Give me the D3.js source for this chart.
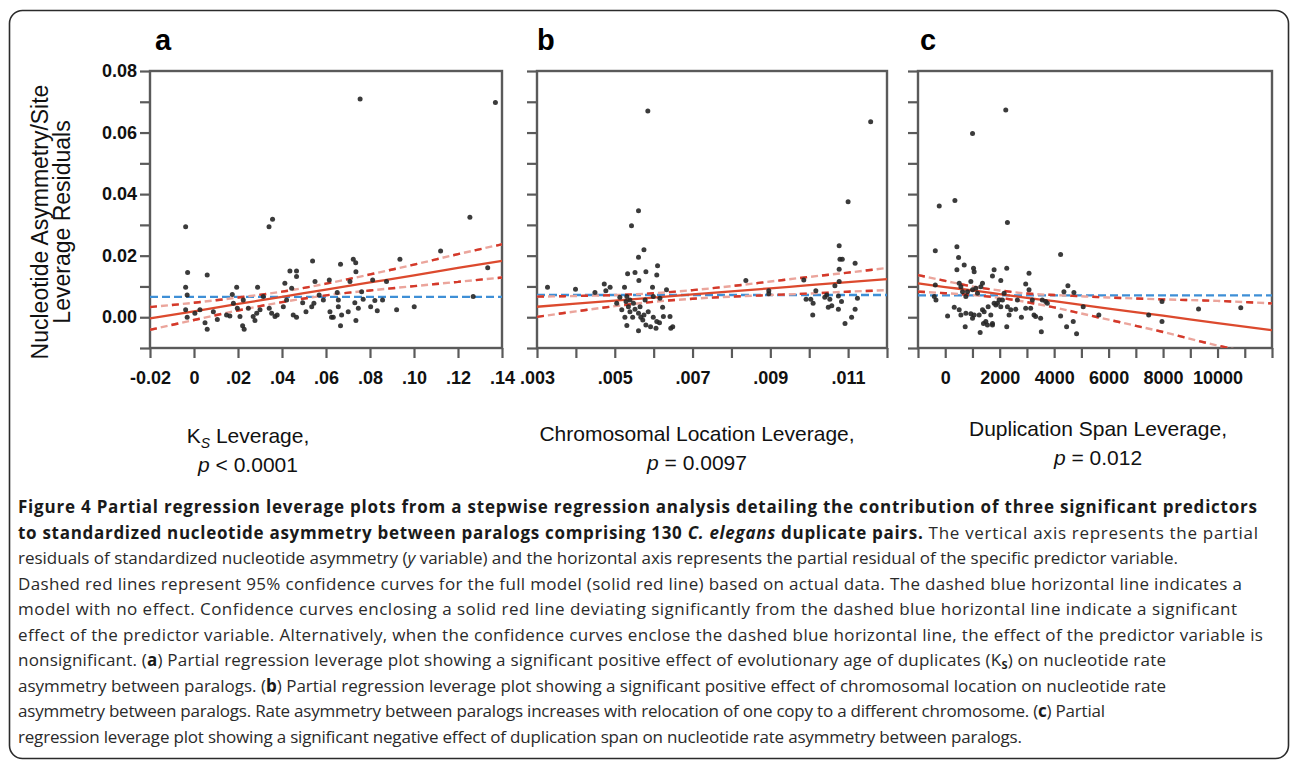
<!DOCTYPE html>
<html><head><meta charset="utf-8">
<script src="https://cdn.jsdelivr.net/npm/d3@7"></script>
<style>
html,body{margin:0;padding:0;background:#fff;}
svg{display:block;}
</style></head>
<body>
<svg id="chart" width="1290" height="761"></svg>
<script>
// ---------------- DATA ----------------
// Panel a : Ks leverage
const aX = [-0.0038,0.0341,0.0357,0.1254,-0.0029,-0.0038,-0.0031,-0.0038,-0.0031,0.0060,0.0004,0.0060,0.0050,0.0106,0.0148,0.0163,0.0194,0.0174,0.0179,0.0197,0.0209,0.0221,0.0228,0.0289,0.0269,0.0285,0.0300,0.0277,0.0342,0.0353,0.0368,0.0378,0.0413,0.0436,0.0466,0.0466,0.0444,0.0451,0.0466,0.0494,0.0509,0.0535,0.0545,0.0539,0.0550,0.0569,0.0615,0.0618,0.0625,0.0633,0.0651,0.0666,0.0656,0.0656,0.0671,0.0666,0.0701,0.0709,0.0724,0.0735,0.0736,0.0731,0.0736,0.0747,0.0769,0.0803,0.0812,0.0822,0.0833,0.0857,0.0875,0.0921,0.0936,0.1001,0.1121,0.1269,0.1335,0.0755,0.1370,0.0027,0.0088,0.0247,0.0224,0.0315,0.0406,0.0421,0.0588,0.0762];
const aY = [0.0294,0.0294,0.0318,0.0325,0.0145,0.0097,0.0072,0.0024,0.0000,0.0137,0.0013,-0.0039,-0.0018,-0.0007,0.0007,0.0004,0.0097,0.0074,0.0045,0.0029,0.0002,-0.0028,-0.0039,0.0097,0.0002,0.0013,0.0024,-0.0011,0.0029,0.0013,0.0002,0.0007,0.0110,0.0150,0.0150,0.0132,0.0094,0.0007,0.0000,0.0047,0.0018,0.0034,0.0045,0.0183,0.0116,0.0072,0.0121,0.0018,0.0000,0.0000,0.0080,0.0172,0.0056,0.0034,0.0007,-0.0028,0.0018,0.0116,0.0188,0.0177,0.0148,0.0047,-0.0011,0.0029,0.0058,0.0034,0.0121,0.0054,0.0021,0.0056,0.0116,0.0024,0.0188,0.0034,0.0215,0.0067,0.0161,0.0709,0.0698,0.0024,0.0018,0.0029,0.0056,0.0067,0.0034,0.0056,0.0056,0.0083];
const aCurveX = [-0.02,0,0.02,0.04,0.06,0.08,0.10,0.12,0.14];
const aFit    = [-0.0004,0.0019,0.0043,0.0066,0.0090,0.0113,0.0136,0.0160,0.0183];
const aUpper  = [0.0033,0.0047,0.0064,0.0083,0.0109,0.0139,0.0171,0.0205,0.0237];
const aLower  = [-0.0041,-0.0009,0.0022,0.0049,0.0071,0.0087,0.0101,0.0115,0.0129];
const aNoEffect = 0.0066;
const aTicks = [-0.02,0,0.02,0.04,0.06,0.08,0.10,0.12,0.14];
const aTickLabels = ["-0.02","0",".02",".04",".06",".08",".10",".12",".14"];

// Panel b : chromosomal location leverage
const bX = [0.00585,0.01158,0.00561,0.01100,0.00543,0.00575,0.00561,0.00533,0.00552,0.00562,0.00580,0.00610,0.00608,0.00473,0.00477,0.00488,0.00449,0.00399,0.00327,0.00525,0.00513,0.00531,0.00539,0.00529,0.00535,0.00539,0.00526,0.00531,0.00546,0.00552,0.00561,0.00567,0.00561,0.00572,0.00575,0.00580,0.00586,0.00592,0.00597,0.00599,0.00606,0.00608,0.00615,0.00623,0.00625,0.00633,0.00642,0.00644,0.00649,0.00599,0.00616,0.00505,0.00548,0.00565,0.00578,0.00518,0.00837,0.00896,0.00896,0.00986,0.00992,0.01004,0.01010,0.01009,0.01017,0.01053,0.01049,0.01058,0.01077,0.01079,0.01085,0.01077,0.01077,0.01066,0.01075,0.01075,0.01083,0.01092,0.01109,0.01118,0.01118,0.01124,0.01045,0.01040];
const bY = [0.0670,0.0635,0.0346,0.0375,0.0297,0.0219,0.0195,0.0141,0.0145,0.0119,0.0148,0.0167,0.0137,0.0108,0.0086,0.0097,0.0080,0.0091,0.0097,0.0097,0.0065,0.0067,0.0056,0.0051,0.0034,0.0018,0.0000,-0.0027,0.0000,0.0026,0.0013,0.0000,-0.0044,-0.0009,0.0007,-0.0025,0.0018,-0.0031,0.0097,0.0000,-0.0036,-0.0014,-0.0018,0.0032,0.0002,0.0089,0.0002,-0.0036,-0.0031,0.0067,0.0062,0.0045,0.0045,0.0034,0.0056,0.0024,0.0119,0.0086,0.0076,0.0121,0.0058,0.0058,0.0045,0.0007,0.0086,0.0058,0.0032,0.0037,0.0232,0.0188,0.0188,0.0156,0.0116,0.0102,0.0069,0.0026,0.0051,-0.0020,0.0000,0.0175,0.0026,0.0062,0.0072,0.0065];
const bCurveX = [0.003,0.004,0.005,0.006,0.007,0.008,0.009,0.010,0.011,0.012];
const bFit    = [0.0034,0.0044,0.0054,0.0064,0.0074,0.0084,0.0094,0.0104,0.0114,0.0124];
const bUpper  = [0.0067,0.0069,0.0072,0.0078,0.0088,0.0101,0.0116,0.0131,0.0145,0.0160];
const bLower  = [0.0001,0.0019,0.0036,0.0050,0.0060,0.0067,0.0072,0.0077,0.0083,0.0088];
const bNoEffect = 0.0072;
const bTicks = [0.003,0.004,0.005,0.006,0.007,0.008,0.009,0.010,0.011,0.012];
const bTickLabels = [".003","",".005","",".007","",".009","",".011",""];

// Panel c : duplication span leverage
const cX = [2223,1003,-220,355,2284,-365,428,490,428,697,1039,1063,1795,1734,2259,2040,3077,2955,3077,4237,4505,4359,4725,-341,-365,-402,514,575,636,758,819,941,1002,1124,1185,1307,1368,331,514,575,758,86,941,1002,1063,1246,1368,1429,1490,1551,1673,1734,1576,1795,1857,1918,1979,2040,2101,2162,2284,2345,2406,2589,2650,2797,2955,3138,3199,3260,3321,3504,3565,3688,3749,4237,4457,4701,4823,5067,5641,733,1283,1405,1734,2259,3529,7472,7960,7960,9303,10853];
const cY = [0.0673,0.0597,0.0361,0.0379,0.0308,0.0216,0.0229,0.0194,0.0154,0.0170,0.0159,0.0148,0.0154,0.0134,0.0159,0.0119,0.0143,0.0108,0.0089,0.0204,0.0102,0.0083,0.0080,0.0056,0.0105,0.0067,0.0110,0.0099,0.0083,0.0067,0.0083,0.0116,0.0089,0.0094,0.0078,0.0099,0.0110,0.0032,0.0024,0.0007,0.0013,0.0004,0.0011,-0.0003,0.0007,0.0007,0.0024,0.0018,-0.0014,-0.0025,0.0007,-0.0020,0.0034,0.0045,0.0040,0.0045,0.0056,0.0034,0.0056,0.0078,0.0034,0.0007,0.0024,0.0026,0.0056,0.0000,0.0029,0.0029,0.0056,0.0007,0.0002,-0.0003,0.0056,0.0051,0.0045,0.0004,-0.0031,-0.0014,-0.0054,0.0034,0.0007,-0.0031,-0.0050,-0.0020,-0.0025,-0.0031,-0.0047,0.0007,0.0051,-0.0014,0.0027,0.0031];
const cCurveX = [-1000,0,1000,2000,3000,4000,5000,6000,8000,10000,12000];
const cFit    = [0.0110,0.0098,0.0087,0.0075,0.0063,0.0052,0.0040,0.0028,0.0005,-0.0019,-0.0042];
const cUpper  = [0.0137,0.0118,0.0100,0.0087,0.0077,0.0072,0.0068,0.0064,0.0058,0.0053,0.0045];
const cLower  = [0.0083,0.0078,0.0072,0.0063,0.0049,0.0032,0.0012,-0.0008,-0.0048,-0.0092,-0.0129];
const cNoEffect = 0.0071;
const cTicks = [-1000,0,1000,2000,3000,4000,5000,6000,7000,8000,9000,10000,11000,12000];
const cTickLabels = ["","0","","2000","","4000","","6000","","8000","","10000","",""];

// Shared y axis
const yTicks = [-0.01,0,0.01,0.02,0.03,0.04,0.05,0.06,0.07,0.08];
const yTickLabels = ["","0.00","","0.02","","0.04","","0.06","","0.08"];
const yTitle = ["Nucleotide Asymmetry/Site","Leverage Residuals"];

const captionLines = [
  [["Figure 4 Partial regression leverage plots from a stepwise regression analysis detailing the contribution of three significant predictors","b"]],
  [["to standardized nucleotide asymmetry between paralogs comprising 130 ","b"],["C. elegans","bi"],[" duplicate pairs.","b"],[" The vertical axis represents the partial",""]],
  [["residuals of standardized nucleotide asymmetry (",""],["y","i"],[" variable) and the horizontal axis represents the partial residual of the specific predictor variable.",""]],
  [["Dashed red lines represent 95% confidence curves for the full model (solid red line) based on actual data. The dashed blue horizontal line indicates a",""]],
  [["model with no effect. Confidence curves enclosing a solid red line deviating significantly from the dashed blue horizontal line indicate a significant",""]],
  [["effect of the predictor variable. Alternatively, when the confidence curves enclose the dashed blue horizontal line, the effect of the predictor variable is",""]],
  [["nonsignificant. (",""],["a","b"],[") Partial regression leverage plot showing a significant positive effect of evolutionary age of duplicates (K",""],["S","sub"],[") on nucleotide rate","up"]],
  [["asymmetry between paralogs. (",""],["b","b"],[") Partial regression leverage plot showing a significant positive effect of chromosomal location on nucleotide rate",""]],
  [["asymmetry between paralogs. Rate asymmetry between paralogs increases with relocation of one copy to a different chromosome. (",""],["c","b"],[") Partial",""]],
  [["regression leverage plot showing a significant negative effect of duplication span on nucleotide rate asymmetry between paralogs.",""]]
];
const captionWidths = [1239,1240,1160,1224,1219,1245,1148,1148,1087,1004];

// ---------------- DRAW ----------------
const svg = d3.select("#chart");
const FONT = "Liberation Sans, Arial, Helvetica, sans-serif";
const CAPFONT = "Open Sans, Noto Sans, sans-serif";

svg.append("rect").attr("x",9.5).attr("y",10.5).attr("width",1279).attr("height",748)
  .attr("rx",13).attr("fill","none").attr("stroke","#2b2b2b").attr("stroke-width",1.6);

const TOP = 71, BOTTOM = 348;
const y = d3.scaleLinear().domain([-0.01,0.08]).range([BOTTOM,TOP]);

const panels = [
  {id:"a", left:150, right:502, domain:[-0.02,0.14], xs:aX, ys:aY, cx:aCurveX, fit:aFit, up:aUpper, lo:aLower, none:aNoEffect, ticks:aTicks, labels:aTickLabels, yLabels:true, letterX:155},
  {id:"b", left:537, right:887, domain:[0.003,0.012], xs:bX, ys:bY, cx:bCurveX, fit:bFit, up:bUpper, lo:bLower, none:bNoEffect, ticks:bTicks, labels:bTickLabels, yLabels:false, letterX:537},
  {id:"c", left:918, right:1272, domain:[-1000,12000], xs:cX, ys:cY, cx:cCurveX, fit:cFit, up:cUpper, lo:cLower, none:cNoEffect, ticks:cTicks, labels:cTickLabels, yLabels:false, letterX:920}
];

const axisColor = "#5a5a5a";

panels.forEach(p => {
  const x = d3.scaleLinear().domain(p.domain).range([p.left,p.right]);
  const g = svg.append("g");
  const clipId = "clip-"+p.id;
  svg.append("clipPath").attr("id",clipId).append("rect")
    .attr("x",p.left).attr("y",TOP).attr("width",p.right-p.left).attr("height",BOTTOM-TOP);

  const xAxis = d3.axisBottom(x).tickValues(p.ticks).tickSize(10).tickSizeOuter(0)
    .tickFormat((d,i)=>p.labels[i]);
  const gx = g.append("g").attr("transform",`translate(0,${BOTTOM})`).call(xAxis);
  const yAxis = d3.axisLeft(y).tickValues(yTicks).tickSize(10).tickSizeOuter(0)
    .tickFormat((d,i)=> p.yLabels ? yTickLabels[i] : "");
  const gy = g.append("g").attr("transform",`translate(${p.left},0)`).call(yAxis);
  [gx,gy].forEach(ax=>{
    ax.select(".domain").remove();
    ax.selectAll(".tick line").attr("stroke",axisColor).attr("stroke-width",2.2);
    ax.selectAll(".tick text").attr("fill","#111").attr("font-family",FONT)
      .attr("font-size",18).attr("font-weight","bold");
  });
  gx.selectAll(".tick text").attr("dy","1.25em");
  gy.selectAll(".tick text").attr("x",-13);

  g.append("rect").attr("x",p.left).attr("y",TOP).attr("width",p.right-p.left).attr("height",BOTTOM-TOP)
    .attr("fill","none").attr("stroke",axisColor).attr("stroke-width",2.4);

  const inner = g.append("g").attr("clip-path",`url(#${clipId})`);
  inner.append("line").attr("x1",p.left).attr("x2",p.right).attr("y1",y(p.none)).attr("y2",y(p.none))
    .attr("stroke","#3e8fd6").attr("stroke-width",2.4).attr("stroke-dasharray","8,4");

  const line = (arr)=> d3.line().x((d,i)=>x(p.cx[i])).y(d=>y(d)).curve(d3.curveMonotoneX)(arr);
  [p.up,p.lo].forEach(arr=>{
    inner.append("path").attr("d",line(arr)).attr("fill","none")
      .attr("stroke","#eba59c").attr("stroke-width",2.4).attr("stroke-dasharray","7,4");
    inner.append("path").attr("d",line(arr)).attr("fill","none")
      .attr("stroke","#d4392a").attr("stroke-width",2.4).attr("stroke-dasharray","7,15");
  });
  inner.append("path").attr("d",line(p.fit)).attr("fill","none")
    .attr("stroke","#dc4a2e").attr("stroke-width",2.3);

  inner.selectAll("circle.pt").data(p.xs).join("circle").attr("class","pt")
    .attr("cx",d=>x(d)).attr("cy",(d,i)=>y(p.ys[i])).attr("r",2.5)
    .attr("fill","#262626").attr("opacity",0.9);

  svg.append("text").attr("x",p.letterX).attr("y",50).text(p.id)
    .attr("font-family",FONT).attr("font-weight","bold").attr("font-size",29).attr("fill","#000");
});

// y title (two lines, rotated)
const yt = svg.append("text").attr("transform","translate(48,222) rotate(-90)")
  .attr("text-anchor","middle").attr("font-family",FONT).attr("font-size",23).attr("fill","#111");
yt.append("tspan").attr("x",0).attr("y",0).text(yTitle[0]);
yt.append("tspan").attr("x",0).attr("y",22).text(yTitle[1]);

// x titles
function xTitle(cx, y1, y2, parts, pparts){
  const t1 = svg.append("text").attr("x",cx).attr("y",y1).attr("text-anchor","middle")
    .attr("font-family",FONT).attr("font-size",21).attr("fill","#111");
  parts.forEach(([s,st])=>{
    const ts = t1.append("tspan").text(s);
    if(st==="sub"){ ts.attr("font-size",14).attr("font-style","italic").attr("dy",5); }
    if(st==="after"){ ts.attr("dy",-5); }
  });
  const t2 = svg.append("text").attr("x",cx).attr("y",y2).attr("text-anchor","middle")
    .attr("font-family",FONT).attr("font-size",21).attr("fill","#111");
  t2.append("tspan").attr("font-style","italic").text("p");
  t2.append("tspan").text(pparts);
}
xTitle(248,443,472,[["K",""],["S","sub"],[" Leverage,","after"]]," < 0.0001");
xTitle(697,441,470,[["Chromosomal Location Leverage,",""]]," = 0.0097");
xTitle(1098,436,465,[["Duplication Span Leverage,",""]]," = 0.012");

// caption: fit each line to its measured width with letter-spacing
captionLines.forEach((segs,li)=>{
  const t = svg.append("text").attr("x",18).attr("y",513 + li*25.5)
    .attr("font-family",CAPFONT).attr("font-size",17).attr("fill","#2a2a2a");
  let nChars = 0;
  segs.forEach(([s,st])=>{
    const ts = t.append("tspan").text(s);
    nChars += s.length;
    if(st.includes("b")) ts.attr("font-weight","bold").attr("fill","#1a1a1a");
    if(st.includes("i")) ts.attr("font-style","italic");
    if(st==="sub"){ ts.attr("font-size",11).attr("dy",3); }
    if(st==="up"){ ts.attr("dy",-3); }
  });
  const natural = t.node().getComputedTextLength();
  const ls = (captionWidths[li]-natural)/Math.max(1,nChars-1);
  t.attr("letter-spacing", ls.toFixed(3));
});
</script>
</body></html>
